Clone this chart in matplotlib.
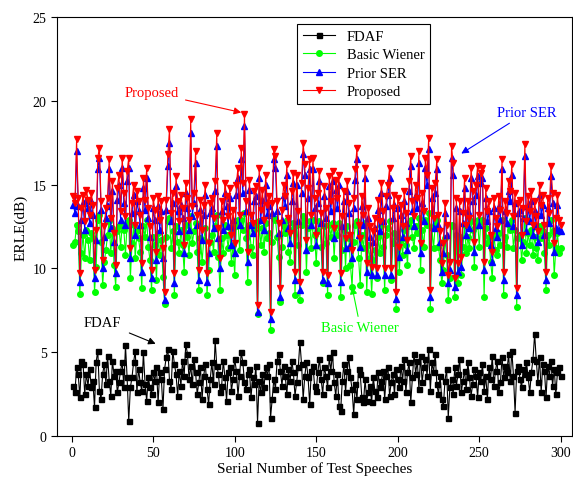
import numpy as np
import matplotlib.pyplot as plt

plt.rcParams['font.family'] = ['Liberation Serif', 'DejaVu Serif']

# --- Data (ERLE in dB for 300 test speeches) ---
speech_idx = np.arange(1, 301)

proposed = [
    14.3, 13.9, 17.7, 14.2, 9.7, 13.6, 14.4, 12.8, 14.7, 14.1,
    13.2, 14.5, 13.8, 9.9, 12.3, 16.6, 17.2, 14.0, 10.5, 12.5,
    13.6, 14.2, 16.5, 13.0, 15.2, 12.1, 10.2, 14.8, 15.6, 13.4,
    16.6, 14.5, 13.1, 15.8, 16.6, 11.2, 13.9, 15.0, 12.6, 14.6,
    14.0, 13.2, 10.3, 15.4, 14.1, 16.0, 13.6, 12.5, 9.9, 14.2,
    13.5, 11.0, 14.3, 12.9, 14.0, 11.2, 8.6, 14.1, 16.8, 18.3,
    13.3, 14.5, 9.7, 15.5, 14.0, 12.8, 14.4, 13.6, 11.4, 15.1,
    14.2, 12.9, 18.9, 13.7, 14.5, 17.0, 13.2, 9.9, 14.1, 12.3,
    13.8, 15.0, 9.7, 11.5, 13.9, 14.2, 13.0, 15.2, 18.1, 12.4,
    10.6, 14.0, 12.9, 15.1, 14.3, 13.1, 14.8, 12.0, 13.5, 11.5,
    15.0, 16.0, 13.2, 17.2, 15.1, 19.2, 14.0, 11.0, 15.3, 13.2,
    12.7, 14.6, 14.9, 7.8, 16.0, 13.5, 14.7, 12.9, 15.6, 13.8,
    14.3, 7.4, 13.9, 17.1, 16.7, 14.0, 12.7, 8.8, 13.5, 15.0,
    14.3, 16.2, 13.0, 12.1, 14.6, 15.7, 9.8, 15.6, 13.4, 9.2,
    15.1, 17.5, 16.2, 11.7, 14.8, 16.5, 13.2, 16.6, 14.2, 12.0,
    14.5, 15.8, 13.3, 9.8, 14.9, 13.6, 9.6, 15.5, 14.0, 15.8,
    12.4, 15.3, 14.2, 15.6, 9.7, 13.1, 14.6, 11.8, 15.2, 13.9,
    12.0, 11.1, 14.2, 15.9, 17.2, 12.6, 11.8, 14.3, 13.2, 16.0,
    10.3, 13.6, 12.5, 10.1, 12.2, 13.0, 10.0, 14.1, 12.8, 15.1,
    13.4, 10.0, 14.3, 15.0, 16.0, 10.0, 13.6, 14.4, 8.6, 14.2,
    11.3, 13.8, 12.5, 14.6, 13.3, 11.7, 15.2, 16.7, 14.0, 13.1,
    15.0, 14.2, 17.0, 11.5, 14.5, 13.4, 16.6, 15.6, 17.8, 8.7,
    14.8, 13.0, 15.1, 16.5, 13.2, 12.2, 10.3, 11.5, 13.9, 12.6,
    9.6, 10.4, 17.3, 16.3, 9.4, 14.2, 10.3, 14.0, 10.7, 13.3,
    15.4, 12.6, 14.0, 13.0, 16.0, 14.6, 11.6, 15.0, 16.1, 13.2,
    15.7, 16.0, 10.4, 14.8, 13.4, 14.0, 12.0, 11.0, 14.2, 13.0,
    12.5, 14.3, 13.5, 16.5, 9.8, 14.0, 13.3, 15.2, 14.6, 16.2,
    13.1, 14.5, 8.8, 13.9, 14.1, 12.0, 13.6, 17.4, 12.8, 14.3,
    13.4, 14.6, 12.6, 14.0, 13.1, 12.2, 15.0, 13.8, 14.4, 12.6,
    9.8, 14.2, 13.3, 16.1, 14.5, 11.5, 13.0, 14.4, 12.9, 12.6,
]

prior_ser = [
    13.8, 13.3, 17.0, 13.7, 9.2, 12.9, 13.9, 12.3, 14.1, 13.6,
    12.7, 14.0, 13.2, 9.4, 11.7, 15.9, 16.6, 13.5, 10.0, 11.9,
    13.0, 13.7, 15.9, 12.4, 14.6, 11.6, 9.7, 14.1, 15.0, 12.9,
    16.0, 13.9, 12.6, 15.2, 16.0, 10.6, 13.3, 14.4, 12.0, 14.0,
    13.4, 12.6, 9.8, 14.8, 13.5, 15.4, 13.0, 11.9, 9.4, 13.6,
    12.9, 10.5, 13.7, 12.3, 13.4, 10.6, 8.1, 13.5, 16.1, 17.5,
    12.8, 13.9, 9.1, 14.9, 13.4, 12.2, 13.8, 13.0, 10.9, 14.5,
    13.6, 12.3, 18.1, 13.1, 13.9, 16.3, 12.6, 9.3, 13.5, 11.7,
    13.2, 14.4, 9.2, 10.9, 13.3, 13.6, 12.4, 14.6, 17.3, 11.8,
    10.0, 13.4, 12.3, 14.5, 13.7, 12.5, 14.2, 11.4, 12.9, 10.9,
    14.4, 15.4, 12.6, 16.5, 14.5, 18.5, 13.4, 10.4, 14.7, 12.6,
    12.1, 14.0, 14.3, 7.4, 15.4, 12.9, 14.1, 12.3, 15.0, 13.2,
    13.7, 7.0, 13.3, 16.5, 16.0, 13.4, 12.1, 8.3, 12.9, 14.4,
    13.7, 15.6, 12.4, 11.5, 14.0, 15.1, 9.3, 15.0, 12.8, 8.7,
    14.5, 16.8, 15.6, 11.1, 14.2, 15.9, 12.6, 15.9, 13.6, 11.4,
    13.9, 15.2, 12.7, 9.3, 14.3, 13.0, 9.1, 14.9, 13.4, 15.2,
    11.8, 14.7, 13.6, 15.0, 9.2, 12.5, 14.0, 11.2, 14.6, 13.3,
    11.4, 10.6, 13.6, 15.3, 16.5, 12.0, 11.3, 13.7, 12.6, 15.4,
    9.8, 13.0, 11.9, 9.6, 11.6, 12.4, 9.6, 13.5, 12.2, 14.5,
    12.8, 9.6, 13.7, 14.4, 15.4, 9.6, 13.0, 13.8, 8.2, 13.6,
    10.7, 13.2, 11.9, 14.0, 12.7, 11.1, 14.6, 16.1, 13.4, 12.5,
    14.4, 13.6, 16.3, 10.9, 13.9, 12.8, 16.0, 15.0, 17.1, 8.3,
    14.2, 12.4, 14.5, 15.9, 12.6, 11.6, 9.8, 10.9, 13.3, 12.0,
    9.1, 9.9, 16.6, 15.6, 8.9, 13.6, 9.8, 13.4, 10.1, 12.7,
    14.8, 12.0, 13.4, 12.4, 15.4, 14.0, 11.0, 14.4, 15.5, 12.6,
    15.1, 15.4, 9.9, 14.2, 12.8, 13.4, 11.4, 10.4, 13.6, 12.4,
    11.9, 13.7, 12.9, 15.9, 9.3, 13.4, 12.7, 14.6, 14.0, 15.6,
    12.5, 13.9, 8.4, 13.3, 13.5, 11.4, 13.0, 16.7, 12.2, 13.7,
    12.8, 14.0, 12.0, 13.4, 12.5, 11.6, 14.4, 13.2, 13.8, 12.0,
    9.3, 13.6, 12.7, 15.5, 13.9, 11.0, 12.4, 13.8, 12.3, 12.2,
]

basic_wiener = [
    11.4, 11.6, 12.6, 12.2, 8.5, 10.9, 12.0, 10.6, 12.3, 11.7,
    10.5, 12.1, 11.8, 8.6, 10.1, 12.9, 13.2, 11.6, 9.0, 10.4,
    11.1, 12.0, 12.8, 10.9, 12.4, 10.2, 8.9, 12.2, 12.5, 11.3,
    12.6, 12.3, 10.8, 12.7, 12.9, 9.4, 11.5, 12.6, 10.6, 12.2,
    11.8, 11.0, 8.8, 12.5, 11.9, 12.9, 11.3, 10.5, 8.7, 11.9,
    11.4, 9.3, 12.1, 10.8, 11.7, 9.5, 7.9, 11.9, 12.8, 13.0,
    11.2, 12.2, 8.4, 12.5, 11.6, 10.9, 12.3, 11.4, 9.8, 12.6,
    11.9, 10.8, 13.1, 11.5, 12.2, 12.7, 11.0, 8.7, 11.8, 10.4,
    11.7, 12.4, 8.4, 9.9, 11.6, 12.0, 11.0, 12.5, 13.2, 10.7,
    8.7, 11.8, 10.9, 12.6, 12.0, 11.2, 12.4, 10.3, 11.4, 9.6,
    12.5, 12.9, 11.1, 12.9, 12.3, 13.3, 11.8, 9.2, 12.6, 11.3,
    10.8, 12.3, 12.6, 7.3, 12.8, 11.4, 12.4, 11.0, 12.7, 11.8,
    12.1, 6.3, 11.6, 13.0, 12.9, 11.9, 10.7, 8.0, 11.3, 12.5,
    12.1, 12.9, 11.0, 10.4, 12.3, 12.7, 8.4, 12.6, 11.4, 8.1,
    12.6, 13.1, 12.9, 9.8, 12.4, 12.8, 11.2, 12.9, 12.0, 10.3,
    12.2, 12.8, 11.3, 9.1, 12.5, 11.5, 8.4, 12.6, 11.9, 12.7,
    10.6, 12.6, 12.0, 12.7, 8.3, 11.1, 12.3, 10.0, 12.5, 11.8,
    10.2, 8.9, 11.6, 12.6, 12.8, 10.6, 9.0, 12.0, 11.2, 12.7,
    8.6, 11.4, 10.6, 8.5, 10.5, 11.1, 9.4, 11.9, 10.9, 12.5,
    11.3, 8.7, 12.0, 12.4, 12.8, 9.3, 11.5, 12.1, 7.6, 11.9,
    9.8, 11.7, 10.8, 12.3, 11.4, 10.2, 12.5, 12.9, 11.9, 11.2,
    12.5, 12.1, 13.0, 9.9, 12.3, 11.3, 12.9, 12.6, 13.3, 7.6,
    12.4, 11.2, 12.6, 12.9, 11.3, 10.5, 9.1, 9.9, 11.8, 10.8,
    8.1, 9.4, 12.6, 12.5, 8.3, 12.0, 9.1, 11.9, 9.6, 11.3,
    12.6, 10.9, 11.9, 11.2, 12.8, 12.3, 10.1, 12.5, 12.9, 11.3,
    12.8, 12.9, 8.3, 12.4, 11.5, 11.9, 10.4, 9.4, 12.0, 11.1,
    10.8, 12.1, 11.4, 12.9, 8.4, 11.9, 11.3, 12.6, 12.3, 12.9,
    11.2, 12.3, 7.7, 11.8, 12.0, 10.5, 11.6, 13.0, 10.9, 12.1,
    11.4, 12.3, 10.8, 11.9, 11.2, 10.5, 12.5, 11.8, 12.2, 10.9,
    8.7, 12.0, 11.4, 12.9, 12.2, 9.6, 11.2, 12.1, 10.9, 11.2,
]

fdaf = [
    3.0, 2.6, 4.1, 3.7, 2.3, 4.5, 4.3, 2.5, 3.7, 3.0,
    4.0, 2.9, 3.3, 1.7, 4.4, 5.1, 2.7, 2.2, 3.7, 4.3,
    3.1, 4.8, 3.3, 2.4, 4.5, 3.6, 3.9, 2.6, 3.2, 3.9,
    4.4, 2.9, 5.4, 3.5, 0.9, 2.9, 3.5, 4.4, 5.1, 2.6,
    4.0, 3.2, 2.7, 5.0, 3.1, 2.1, 3.5, 2.9, 2.5, 3.8,
    3.3, 4.1, 2.0, 3.8, 3.4, 1.6, 4.0, 4.7, 5.2, 3.3,
    2.8, 5.1, 4.3, 3.7, 2.4, 3.9, 3.0, 4.5, 3.6, 5.5,
    4.9, 3.4, 4.2, 3.1, 4.6, 3.8, 2.5, 3.2, 4.1, 2.2,
    3.6, 4.3, 2.8, 1.9, 3.4, 4.4, 3.1, 5.7, 4.2, 3.7,
    2.6, 3.0, 4.5, 3.5, 2.1, 3.8, 4.1, 2.7, 3.4, 4.6,
    3.9, 2.4, 3.6, 5.0, 4.4, 3.2, 2.8, 3.7, 4.0, 2.3,
    3.5, 3.1, 4.2, 0.8, 3.3, 2.6, 3.7, 2.9, 4.1, 3.6,
    4.3, 1.1, 2.2, 3.4, 2.8, 4.5, 4.9, 3.9, 3.0, 4.2,
    3.6, 2.5, 4.0, 3.3, 4.5, 3.8, 2.4, 3.2, 4.1, 5.6,
    4.3, 2.2, 3.6, 4.4, 3.5, 1.9, 3.9, 4.2, 3.0, 2.7,
    3.8, 4.6, 3.4, 2.5, 4.1, 3.6, 2.9, 4.7, 3.9, 5.0,
    3.2, 2.4, 3.7, 1.8, 1.5, 3.3, 4.3, 2.6, 3.9, 4.7,
    3.5, 2.8, 1.3, 3.1, 2.2, 4.0, 3.7, 2.3, 2.0, 3.4,
    2.1, 2.6, 3.0, 2.0, 3.5, 2.7, 2.3, 3.8, 2.9, 3.3,
    3.9, 2.2, 3.6, 4.1, 2.4, 3.2, 3.7, 2.5, 4.0, 3.4,
    2.9, 4.2, 3.3, 4.6, 2.6, 3.8, 4.4, 2.0, 3.5, 4.9,
    3.7, 4.5, 2.8, 4.8, 3.2, 4.1, 4.6, 3.6, 5.2, 2.7,
    4.4, 3.8, 4.9, 3.1, 2.5, 3.6, 2.2, 1.8, 3.3, 4.0,
    1.1, 2.9, 3.4, 2.5, 4.1, 3.0, 3.7, 4.6, 2.6, 3.3,
    3.9, 2.8, 4.4, 3.5, 2.4, 3.1, 4.0, 3.6, 2.3, 3.8,
    3.3, 4.3, 2.7, 3.6, 2.2, 4.1, 3.4, 4.8, 3.0, 3.9,
    4.5, 2.6, 3.2, 4.7, 3.5, 4.2, 3.8, 4.9, 3.3, 5.1,
    3.6, 1.4, 3.9, 4.2, 3.4, 2.9, 4.0, 3.7, 4.4, 3.5,
    2.6, 3.8, 4.6, 6.1, 4.5, 3.2, 4.7, 2.6, 4.3, 3.9,
    2.3, 4.2, 3.6, 4.5, 3.0, 4.0, 2.5, 3.8, 4.1, 3.6,
]

# --- Figure ---
fig = plt.figure(figsize=(5.73, 4.85), dpi=100)
ax = fig.add_axes([0.0995, 0.099, 0.899, 0.864])

ax.plot(speech_idx, fdaf, color='black', marker='s', markersize=3.6, lw=0.8, label='FDAF')
ax.plot(speech_idx, basic_wiener, color='#00ff00', marker='o', markersize=4, lw=0.8,
        label='Basic Wiener')
ax.plot(speech_idx, prior_ser, color='#0000ff', marker='^', markersize=4.8, lw=0.8,
        label='Prior SER')
ax.plot(speech_idx, proposed, color='#ff0000', marker='v', markersize=4.8, lw=0.8,
        label='Proposed')

ax.set_xlim(-9, 307)
ax.set_ylim(0, 25)
ax.set_xticks([0, 50, 100, 150, 200, 250, 300])
ax.set_yticks([0, 5, 10, 15, 20, 25])
ax.tick_params(labelsize=10, direction='out', length=4)
ax.set_xlabel('Serial Number of Test Speeches', fontsize=11, labelpad=1)
ax.set_ylabel('ERLE(dB)', fontsize=11, labelpad=4)

leg = ax.legend(loc='upper left', bbox_to_anchor=(0.466, 0.983), borderaxespad=0,
                fontsize=10.5, fancybox=False, framealpha=1, edgecolor='black',
                handlelength=2.2, labelspacing=0.35)
leg.get_frame().set_linewidth(0.8)

# --- Annotations ---
ax.annotate('Proposed', xy=(104, 19.3), xytext=(49, 20.5), color='#ff0000',
            fontsize=10.5, ha='center', va='center',
            arrowprops=dict(arrowstyle='-|>', color='#ff0000', lw=0.8,
                            shrinkA=3, shrinkB=0))
ax.annotate('Prior SER', xy=(239, 16.85), xytext=(279, 19.3), color='#0000ff',
            fontsize=10.5, ha='center', va='center',
            arrowprops=dict(arrowstyle='-|>', color='#0000ff', lw=0.8,
                            shrinkA=2, shrinkB=0))
ax.annotate('Basic Wiener', xy=(172, 8.9), xytext=(177, 6.5), color='#00ff00',
            fontsize=10.5, ha='center', va='center',
            arrowprops=dict(arrowstyle='-|>', color='#00ff00', lw=0.8,
                            shrinkA=1, shrinkB=0))
ax.annotate('FDAF', xy=(51.5, 5.5), xytext=(19, 6.8), color='black',
            fontsize=10.5, ha='center', va='center',
            arrowprops=dict(arrowstyle='-|>', color='black', lw=0.8,
                            shrinkA=4, shrinkB=0))

plt.savefig('out.png', dpi=100)
